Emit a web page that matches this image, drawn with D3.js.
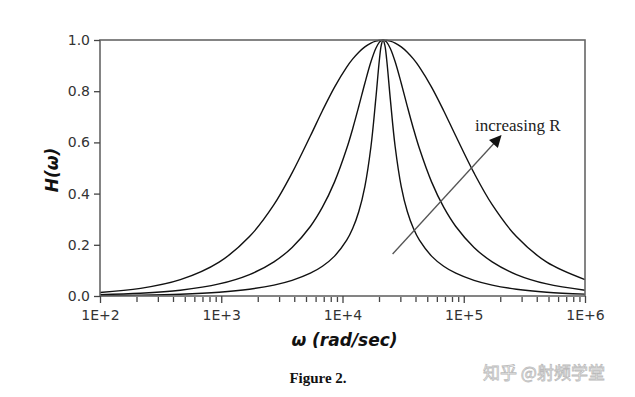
<!DOCTYPE html>
<html><head><meta charset="utf-8">
<script src="https://cdn.jsdelivr.net/npm/d3@7"></script>
<style>body{margin:0;background:#fff}svg{display:block}</style>
</head><body>
<svg id="c" width="635" height="397"></svg>
<script>
// angular frequency samples (rad/sec)
const omega = [100, 216, 460, 960, 1710, 2720, 3840, 5430, 6830, 8600, 10830, 12150, 13630, 15290, 17160, 18810, 20160, 20870,
  21600,
  22360, 23140, 24800, 27190, 30510, 34230, 38410, 43100, 54260, 68300, 85990, 121500, 171600, 271900, 483700, 1000000];
// |H(w)| for three resistances (smallest R = narrowest peak)
const hLowR = [0.0015, 0.0033, 0.0071, 0.0149, 0.0266, 0.0426, 0.0611, 0.0890, 0.1163, 0.1558, 0.2178, 0.2644, 0.3299, 0.4276, 0.5829, 0.7689, 0.9237, 0.9792,
  1.0,
  0.9792, 0.9237, 0.7689, 0.5829, 0.4276, 0.3299, 0.2644, 0.2178, 0.1558, 0.1163, 0.0890, 0.0611, 0.0426, 0.0266, 0.0149, 0.0072];
const hMidR = [0.0049, 0.0105, 0.0225, 0.0471, 0.0838, 0.1334, 0.1898, 0.2716, 0.3469, 0.4458, 0.5759, 0.6545, 0.7410, 0.8310, 0.9149, 0.9670, 0.9915, 0.9979,
  1.0,
  0.9979, 0.9915, 0.9670, 0.9149, 0.8310, 0.7410, 0.6545, 0.5759, 0.4458, 0.3469, 0.2716, 0.1898, 0.1334, 0.0838, 0.0471, 0.0227];
const hHighR = [0.0138, 0.0298, 0.0638, 0.1324, 0.2321, 0.3567, 0.4807, 0.6248, 0.7238, 0.8161, 0.8942, 0.9261, 0.9525, 0.9733, 0.9881, 0.9957, 0.9989, 0.9997,
  1.0,
  0.9997, 0.9989, 0.9957, 0.9881, 0.9733, 0.9525, 0.9261, 0.8942, 0.8161, 0.7238, 0.6248, 0.4807, 0.3567, 0.2321, 0.1324, 0.0643];

const xTickValues = [1e2, 1e3, 1e4, 1e5, 1e6];
const xTickLabels = ["1E+2", "1E+3", "1E+4", "1E+5", "1E+6"];
const yTickValues = [0, 0.2, 0.4, 0.6, 0.8, 1.0];
const yTickLabels = ["0.0", "0.2", "0.4", "0.6", "0.8", "1.0"];
const xTitle = "ω (rad/sec)";
const yTitle = "H(ω)";
const caption = "Figure 2.";
const annotation = "increasing R";
const arrowFrom = [25900, 0.164];
const arrowTo = [201800, 0.625];
const annotationAt = [124000, 0.643];
const watermark = "知乎 @射频学堂";

const svg = d3.select("#c");
const L = 100, R = 585, T = 40, B = 296;
const x = d3.scaleLog().domain([1e2, 1e6]).range([L, R]);
const y = d3.scaleLinear().domain([0, 1]).range([B, T]);

svg.append("rect").attr("width", 635).attr("height", 397).attr("fill", "#fff");

// curves
const line = d3.line().x((d, i) => x(omega[i])).y(d => y(d)).curve(d3.curveCatmullRom.alpha(0.5));
const g = svg.append("g");
[hLowR, hMidR, hHighR].forEach(s => {
  g.append("path").attr("d", line(s)).attr("fill", "none").attr("stroke", "#111").attr("stroke-width", 1.4);
});

// annotation arrow
const defs = svg.append("defs");
defs.append("marker").attr("id", "ah").attr("viewBox", "0 0 10 10").attr("refX", 9).attr("refY", 5)
  .attr("markerWidth", 17).attr("markerHeight", 12).attr("markerUnits", "userSpaceOnUse").attr("orient", "auto")
  .append("path").attr("d", "M0,0 L10,5 L0,10 Z").attr("fill", "#111");
svg.append("line")
  .attr("x1", x(arrowFrom[0])).attr("y1", y(arrowFrom[1]))
  .attr("x2", x(arrowTo[0])).attr("y2", y(arrowTo[1]))
  .attr("stroke", "#555").attr("stroke-width", 1.3).attr("marker-end", "url(#ah)");
svg.append("text").attr("x", x(annotationAt[0])).attr("y", y(annotationAt[1]))
  .attr("font-family", "Liberation Serif, serif").attr("font-size", 17).attr("fill", "#222")
  .text(annotation);

// frame
svg.append("rect").attr("x", L).attr("y", T).attr("width", R - L).attr("height", B - T)
  .attr("fill", "none").attr("stroke", "#666").attr("stroke-width", 1.6);

// x axis major
const xAxis = svg.append("g").attr("transform", `translate(0,${B})`)
  .call(d3.axisBottom(x).tickValues(xTickValues).tickSize(7).tickPadding(4)
    .tickFormat((d, i) => xTickLabels[i]));
// x minor ticks
const minor = [];
for (let e = 2; e < 6; e++) for (let m = 2; m <= 9; m++) minor.push(m * Math.pow(10, e));
const xMinor = svg.append("g").attr("transform", `translate(0,${B + 1})`)
  .call(d3.axisBottom(x).tickValues(minor).tickSize(5).tickFormat(""));
// y axis
const yAxis = svg.append("g").attr("transform", `translate(${L},0)`)
  .call(d3.axisLeft(y).tickValues(yTickValues).tickSize(6).tickPadding(4)
    .tickFormat((d, i) => yTickLabels[i]));
[xAxis, xMinor, yAxis].forEach(a => {
  a.select(".domain").remove();
  a.selectAll("line").attr("stroke", "#444").attr("stroke-width", 1.3);
  a.selectAll("text").attr("font-family", "DejaVu Sans, sans-serif").attr("font-size", 14).attr("fill", "#333");
});
xAxis.selectAll("text").attr("dy", "0.9em");

// titles
svg.append("text").attr("x", (L + R) / 2 + 2).attr("y", 346).attr("text-anchor", "middle")
  .attr("font-family", "DejaVu Sans, sans-serif").attr("font-weight", "bold").attr("font-style", "italic")
  .attr("font-size", 17).attr("fill", "#111").text(xTitle);
svg.append("text").attr("transform", "translate(58,170) rotate(-90)").attr("text-anchor", "middle")
  .attr("font-family", "DejaVu Sans, sans-serif").attr("font-weight", "bold").attr("font-style", "italic")
  .attr("font-size", 17).attr("fill", "#111").text(yTitle);
svg.append("text").attr("x", 318).attr("y", 383).attr("text-anchor", "middle")
  .attr("font-family", "Liberation Serif, serif").attr("font-weight", "bold")
  .attr("font-size", 15).attr("fill", "#111").text(caption);

// watermark
svg.append("text").attr("x", 483).attr("y", 379)
  .attr("font-family", "Noto Sans CJK SC, sans-serif").attr("font-size", 17)
  .attr("fill", "#fff").attr("stroke", "#bbb").attr("stroke-width", 0.8)
  .text(watermark);
</script>
</body></html>
